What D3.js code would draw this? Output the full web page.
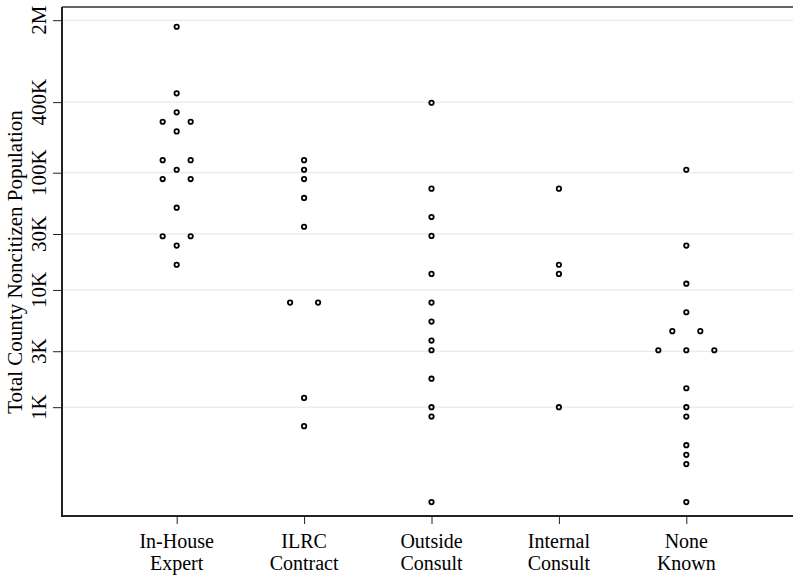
<!DOCTYPE html>
<html>
<head>
<meta charset="utf-8">
<script src="https://cdn.jsdelivr.net/npm/d3@7"></script>
<style>
  body { margin: 0; background: #fff; }
</style>
</head>
<body>
<div id="chart"></div>
<script>
// categories (two-line labels)
const categories = [["In-House", "Expert"], ["ILRC", "Contract"], ["Outside", "Consult"], ["Internal", "Consult"], ["None", "Known"]];

// total county noncitizen population per county, by category
const inHouse = [1758000, 475000, 327000, 272000, 272000, 225000, 128000, 128000, 106000, 88300, 88300, 50300, 28700, 28700, 23900, 16400];
const ilrc = [128000, 106000, 88300, 60900, 34600, 7800, 7800, 1200, 689];
const outside = [395000, 73100, 41900, 28900, 13700, 7800, 5370, 3700, 3060, 1750, 1000, 832, 155];
const internal = [73100, 16400, 13700, 1000];
const noneKnown = [106000, 23900, 11300, 6450, 4450, 4450, 3060, 3060, 3060, 1450, 1000, 832, 474, 392, 327, 155];
const series = [inHouse, ilrc, outside, internal, noneKnown];

// y ticks
const tickValues = [1000, 3000, 10000, 30000, 100000, 400000, 2000000];
const tickLabels = ["1K", "3K", "10K", "30K", "100K", "400K", "2M"];

const width = 793;
const height = 575;
const plotLeft = 62, plotTop = 7, plotBottom = 516;
const dodge = 28; // horizontal spacing of tied dots
const serif = "'Liberation Serif', 'DejaVu Serif', serif";

const svg = d3.select("#chart")
    .append("svg")
    .attr("width", width)
    .attr("height", height);

const x = d3.scaleLinear().domain([0.1, 5.9]).range([plotLeft, 801]);
const y = d3.scaleLog().domain([118, 2.59e6]).range([plotBottom, plotTop]);

// gridlines
svg.selectAll("line.grid")
    .data(tickValues)
    .enter()
    .append("line")
    .attr("class", "grid")
    .attr("x1", plotLeft)
    .attr("x2", width)
    .attr("y1", d => y(d))
    .attr("y2", d => y(d))
    .attr("stroke", "#e4e4e4")
    .attr("stroke-width", 1);

// top border
svg.append("line")
    .attr("x1", plotLeft).attr("x2", width)
    .attr("y1", plotTop).attr("y2", plotTop)
    .attr("stroke", "#333").attr("stroke-width", 1.6);

// y axis
const yAxis = svg.append("g")
    .attr("transform", `translate(${plotLeft},0)`)
    .call(d3.axisLeft(y).tickValues(tickValues).tickFormat("").tickSize(9).tickSizeOuter(0));
yAxis.select(".domain").remove();
yAxis.selectAll(".tick line").attr("stroke", "#222").attr("stroke-width", 1);

svg.append("line")
    .attr("x1", plotLeft).attr("x2", plotLeft)
    .attr("y1", plotTop).attr("y2", plotBottom + 1)
    .attr("stroke", "#222").attr("stroke-width", 2);

svg.selectAll("text.ytick")
    .data(tickValues)
    .enter()
    .append("text")
    .attr("class", "ytick")
    .attr("transform", d => `translate(46,${y(d)}) rotate(-90)`)
    .attr("text-anchor", "middle")
    .attr("font-family", serif)
    .attr("font-size", 21)
    .attr("fill", "#000")
    .text((d, i) => tickLabels[i]);

// x axis
const xAxis = svg.append("g")
    .attr("transform", `translate(0,${plotBottom})`)
    .call(d3.axisBottom(x).tickValues([1, 2, 3, 4, 5]).tickFormat("").tickSize(8).tickSizeOuter(0));
xAxis.select(".domain").remove();
xAxis.selectAll(".tick line").attr("stroke", "#222").attr("stroke-width", 1);

svg.append("line")
    .attr("x1", plotLeft - 1).attr("x2", width)
    .attr("y1", plotBottom).attr("y2", plotBottom)
    .attr("stroke", "#222").attr("stroke-width", 2.2);

// two-line category labels, one text per line
[0, 1].forEach(line => {
  svg.selectAll(`text.xlabel${line}`)
      .data(categories)
      .enter()
      .append("text")
      .attr("class", `xlabel${line}`)
      .attr("text-anchor", "middle")
      .attr("x", (d, i) => x(i + 1))
      .attr("y", 548 + line * 22)
      .attr("font-family", serif)
      .attr("font-size", 20)
      .attr("fill", "#000")
      .text(d => d[line]);
});

// y title
svg.append("text")
    .attr("transform", `translate(22,${(plotTop + 407) / 2 + 55}) rotate(-90)`)
    .attr("text-anchor", "middle")
    .attr("font-family", serif)
    .attr("font-size", 21)
    .attr("fill", "#000")
    .text("Total County Noncitizen Population");

// dots: tied values within a category are spread horizontally
const dots = [];
series.forEach((vals, ci) => {
  const groups = d3.group(vals, v => v);
  groups.forEach((arr, v) => {
    arr.forEach((_, k) => {
      dots.push({ cat: ci + 1, value: v, off: (k - (arr.length - 1) / 2) * dodge });
    });
  });
});

svg.selectAll("circle")
    .data(dots)
    .enter()
    .append("circle")
    .attr("cx", d => x(d.cat) + d.off)
    .attr("cy", d => y(d.value))
    .attr("r", 2.2)
    .attr("fill", "none")
    .attr("stroke", "#000")
    .attr("stroke-width", 1.8);
</script>
</body>
</html>
